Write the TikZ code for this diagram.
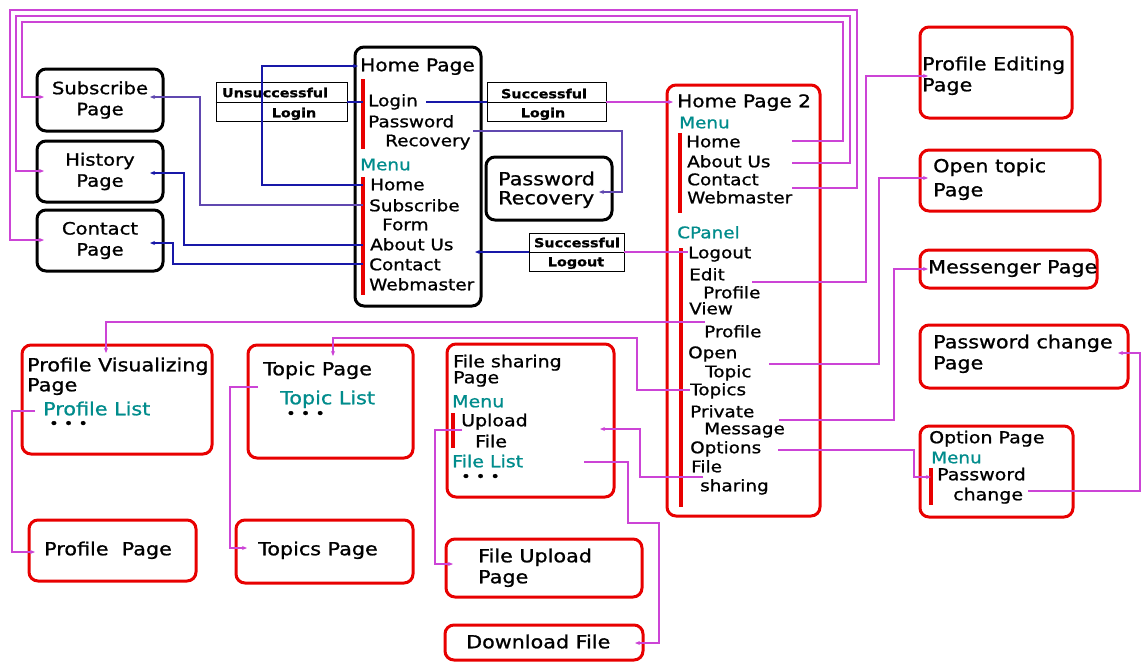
\documentclass[tikz,border=0pt]{standalone}
\usepackage{fontspec}
\setmainfont{DejaVu Sans}[FakeStretch=1.15,FakeBold=1]
\usetikzlibrary{arrows.meta}
\definecolor{boxred}{RGB}{232,0,0}
\definecolor{menuteal}{RGB}{0,140,140}
\definecolor{linkpink}{RGB}{204,68,214}
\definecolor{linkblue}{RGB}{24,24,168}
\definecolor{linkviolet}{RGB}{96,72,176}
\newcommand{\sz}[1]{\fontsize{#1}{#1}\selectfont}
\begin{document}
\begin{tikzpicture}[x=1pt,y=-1pt,
  blackbox/.style={draw=black, line width=3pt, rounded corners=9pt, inner sep=0pt,
                   align=center, font={\sz{17}\baselineskip=21pt}},
  redbox/.style={draw=boxred, line width=3pt, rounded corners=9pt, inner sep=0pt},
  tagbox/.style={draw=black, line width=0.9pt, inner sep=0pt},
  tagtxt/.style={inner sep=0pt, font={\bfseries\sz{12.5}}, text height=1.05em, text depth=0pt},
  item/.style={inner sep=0pt, anchor=west, text height=1.05em, text depth=0pt, font={\sz{16}}},
  big/.style={item, font={\sz{18}}},
  head/.style={item, font={\sz{17.5}}},
  menu/.style={item, text=menuteal},
  bigmenu/.style={big, text=menuteal},
  dots/.style={item, font={\sz{14}}},
  bar/.style={draw=boxred, line width=3.2pt},
  pinkln/.style={draw=linkpink, line width=1.1pt},
  blueln/.style={draw=linkblue, line width=1.1pt},
  violetln/.style={draw=linkviolet, line width=1.1pt},
  arr/.style={-{Stealth[length=5pt,width=4pt]}}]

\fill[white] (0,0) rectangle (1141,662);
\useasboundingbox (0,0) rectangle (1141,662);

% ---------- public pages (black) ----------
\node[blackbox, minimum width=126pt, minimum height=62pt] (subscribe) at (100,100) {Subscribe\\Page};
\node[blackbox, minimum width=126pt, minimum height=61pt] (history) at (100,171.5) {History\\Page};
\node[blackbox, minimum width=126pt, minimum height=61pt] (contact) at (100,240.5) {Contact\\Page};
\node[blackbox, minimum width=126pt, minimum height=259pt] (home) at (418,176.5) {};
\node[blackbox, minimum width=126pt, minimum height=63pt] (pwrec) at (549,188.5) {};
\node[big] (pwrecA) at (498,180) {Password};
\node[big] (pwrecB) at (498,199) {Recovery};

% Home Page contents
\node[head] (hpTitle) at (360,66) {Home Page};
\node[item] (hpLogin) at (368,101) {Login};
\node[item] (hpPw) at (368,122) {Password};
\node[item] (hpRec) at (385,141) {Recovery};
\node[menu] (hpMenu) at (360,165) {Menu};
\node[item] (hpHome) at (370,185) {Home};
\node[item] (hpSub) at (369,206) {Subscribe};
\node[item] (hpForm) at (382,225) {Form};
\node[item] (hpAbout) at (370,245) {About Us};
\node[item] (hpContact) at (369,265) {Contact};
\node[item] (hpWeb) at (369,285) {Webmaster};
\draw[bar] (363,79) -- (363,149);
\draw[bar] (363,177) -- (363,295);

% ---------- transition tags ----------
\node[tagbox, minimum width=131pt, minimum height=39pt] (unsucc) at (281.5,102) {};
\draw[line width=0.9pt] (unsucc.west) -- (unsucc.east);
\node[tagtxt] (unsuccA) at (275,92) {Unsuccessful};
\node[tagtxt] (unsuccB) at (294,112) {Login};

\node[tagbox, minimum width=119pt, minimum height=39pt] (succLogin) at (546.5,102) {};
\draw[line width=0.9pt] (succLogin.west) -- (succLogin.east);
\node[tagtxt] (succLoginA) at (544,93) {Successful};
\node[tagtxt] (succLoginB) at (543,112) {Login};

\node[tagbox, minimum width=95pt, minimum height=38pt] (succLogout) at (576.5,252) {};
\draw[line width=0.9pt] (succLogout.west) -- (succLogout.east);
\node[tagtxt] (succLogoutA) at (577,242) {Successful};
\node[tagtxt] (succLogoutB) at (576,261) {Logout};

% ---------- member pages (red) ----------
\node[redbox, minimum width=153pt, minimum height=431pt] (home2) at (743.5,300.5) {};
\node[head] (h2Title) at (677,102) {Home Page 2};
\node[menu] (h2Menu) at (679,123) {Menu};
\draw[bar] (680,133) -- (680,213);
\node[item] (h2Home) at (686,142) {Home};
\node[item] (h2About) at (687,162) {About Us};
\node[item] (h2Contact) at (687,180) {Contact};
\node[item] (h2Web) at (687,198) {Webmaster};
\node[menu] (h2CPanel) at (677,233) {CPanel};
\draw[bar] (681,248) -- (681,507);
\node[item] (h2Logout) at (688,253) {Logout};
\node[item] (h2EditA) at (689,275) {Edit};
\node[item] (h2EditB) at (703,293) {Profile};
\node[item] (h2ViewA) at (689,309) {View};
\node[item] (h2ViewB) at (704,332) {Profile};
\node[item] (h2OpenA) at (688,353) {Open};
\node[item] (h2OpenB) at (705,372) {Topic};
\node[item] (h2Topics) at (690,390) {Topics};
\node[item] (h2PrivA) at (690,412) {Private};
\node[item] (h2PrivB) at (704,429) {Message};
\node[item] (h2Opt) at (690,448) {Options};
\node[item] (h2FileA) at (691,467) {File};
\node[item] (h2FileB) at (700,486) {sharing};

\node[redbox, minimum width=152pt, minimum height=91pt] (profedit) at (996,72.5) {};
\node[big] (profeditA) at (922,65) {Profile Editing};
\node[big] (profeditB) at (922,86) {Page};

\node[redbox, minimum width=180pt, minimum height=61pt] (opentopic) at (1010,180.5) {};
\node[big] (opentopicA) at (933,167) {Open topic};
\node[big] (opentopicB) at (933,191) {Page};

\node[redbox, minimum width=177pt, minimum height=38pt] (messenger) at (1008.5,269) {};
\node[big] (messengerA) at (928,268) {Messenger Page};

\node[redbox, minimum width=208pt, minimum height=63pt] (pwchange) at (1024,356.5) {};
\node[big] (pwchangeA) at (933,343) {Password change};
\node[big] (pwchangeB) at (933,364) {Page};

\node[redbox, minimum width=153pt, minimum height=91pt] (option) at (996.5,471.5) {};
\node[item, font={\sz{16.5}}] (optTitle) at (929,438) {Option Page};
\node[menu] (optMenu) at (931,458) {Menu};
\draw[bar] (931,468) -- (931,505);
\node[item, font={\sz{16.5}}] (optPwA) at (937,475) {Password};
\node[item, font={\sz{16.5}}] (optPwB) at (953,495) {change};

\node[redbox, minimum width=190pt, minimum height=109pt] (profvis) at (117,399.5) {};
\node[big] (profvisA) at (27,366) {Profile Visualizing};
\node[big] (profvisB) at (27,386) {Page};
\node[bigmenu] (profList) at (43,410) {Profile List};
\node[dots] (profDots) at (49,423) {• • •};

\node[redbox, minimum width=165pt, minimum height=113pt] (topic) at (330.5,401.5) {};
\node[big] (topicA) at (263,370) {Topic Page};
\node[bigmenu] (topicList) at (280,399) {Topic List};
\node[dots] (topicDots) at (286,413) {• • •};

\node[redbox, minimum width=167pt, minimum height=61pt] (profile) at (112.5,550.5) {};
\node[big] (profileA) at (44,550) {Profile\ \ Page};

\node[redbox, minimum width=177pt, minimum height=63pt] (topics) at (324.5,551.5) {};
\node[big] (topicsA) at (258,550) {Topics Page};

\node[redbox, minimum width=167pt, minimum height=153pt] (fileshare) at (530.5,420.5) {};
\node[item, font={\sz{16.5}}] (fileshareA) at (453,362) {File sharing};
\node[item, font={\sz{16.5}}] (fileshareB) at (453,378) {Page};
\node[menu, font={\sz{16.5}}] (fsMenu) at (452,402) {Menu};
\draw[bar] (453,413) -- (453,448);
\node[item, font={\sz{16.5}}] (fsUpA) at (461,421) {Upload};
\node[item, font={\sz{16.5}}] (fsUpB) at (475,442) {File};
\node[menu, font={\sz{16.5}}] (fsList) at (452,462) {File List};
\node[dots] (fsDots) at (461,476) {• • •};

\node[redbox, minimum width=196pt, minimum height=58pt] (fileup) at (544,568) {};
\node[big] (fileupA) at (478,557) {File Upload};
\node[big] (fileupB) at (478,578) {Page};

\node[redbox, minimum width=198pt, minimum height=35pt] (download) at (544,642.5) {};
\node[big] (downloadA) at (466,643) {Download File};

% ---------- links from Home Page ----------
\draw[blueln,arr] (363,185) -| (262,66) -- (358,66);
\draw[blueln] (363,102) -- (unsucc.east);
\draw[violetln,arr] (363,205) -| (200,97) -- (150,97);
\draw[blueln,arr] (363,245) -| (184,173) -- (150,173);
\draw[blueln,arr] (363,264) -| (173,243) -- (150,243);
\draw[blueln] (426,102) -- (succLogin.west);
\draw[violetln,arr] (473,131) -| (622,192) -- (599,192);
\draw[blueln,arr] (succLogout.west) -- (475,252);

% ---------- links from Home Page 2 ----------
\draw[pinkln,arr] (succLogin.east) -- (673,102);
\draw[pinkln] (688,252) -- (succLogout.east);
\draw[pinkln,arr] (792,141) -| (843,22) -| (22,97) -- (44,97);
\draw[pinkln,arr] (792,163) -| (850,16) -| (16,171) -- (44,171);
\draw[pinkln,arr] (792,188) -| (857,10) -| (10,240) -- (44,240);
\draw[pinkln,arr] (752,282) -| (866,76) -- (928,76);
\draw[pinkln,arr] (705,322) -| (106,353);
\draw[pinkln,arr] (769,364) -| (879,178) -- (928,178);
\draw[pinkln,arr] (690,390) -| (637,338) -| (333,356);
\draw[pinkln,arr] (779,420) -| (894,269) -- (928,269);
\draw[pinkln,arr] (778,450) -| (914,477) -- (931,477);
\draw[pinkln,arr] (703,477) -| (640,429) -- (600,429);

% ---------- links between sub-pages ----------
\draw[pinkln,arr] (1028,491) -| (1140,353) -- (1118,353);
\draw[pinkln,arr] (462,430) -| (435,564) -- (453,564);
\draw[pinkln,arr] (584,462) -| (628,523) -| (659,643) -- (635,643);
\draw[pinkln,arr] (35,411) -| (12,552) -- (35,552);
\draw[pinkln,arr] (258,387) -| (230,548) -- (247,548);
\end{tikzpicture}
\end{document}
